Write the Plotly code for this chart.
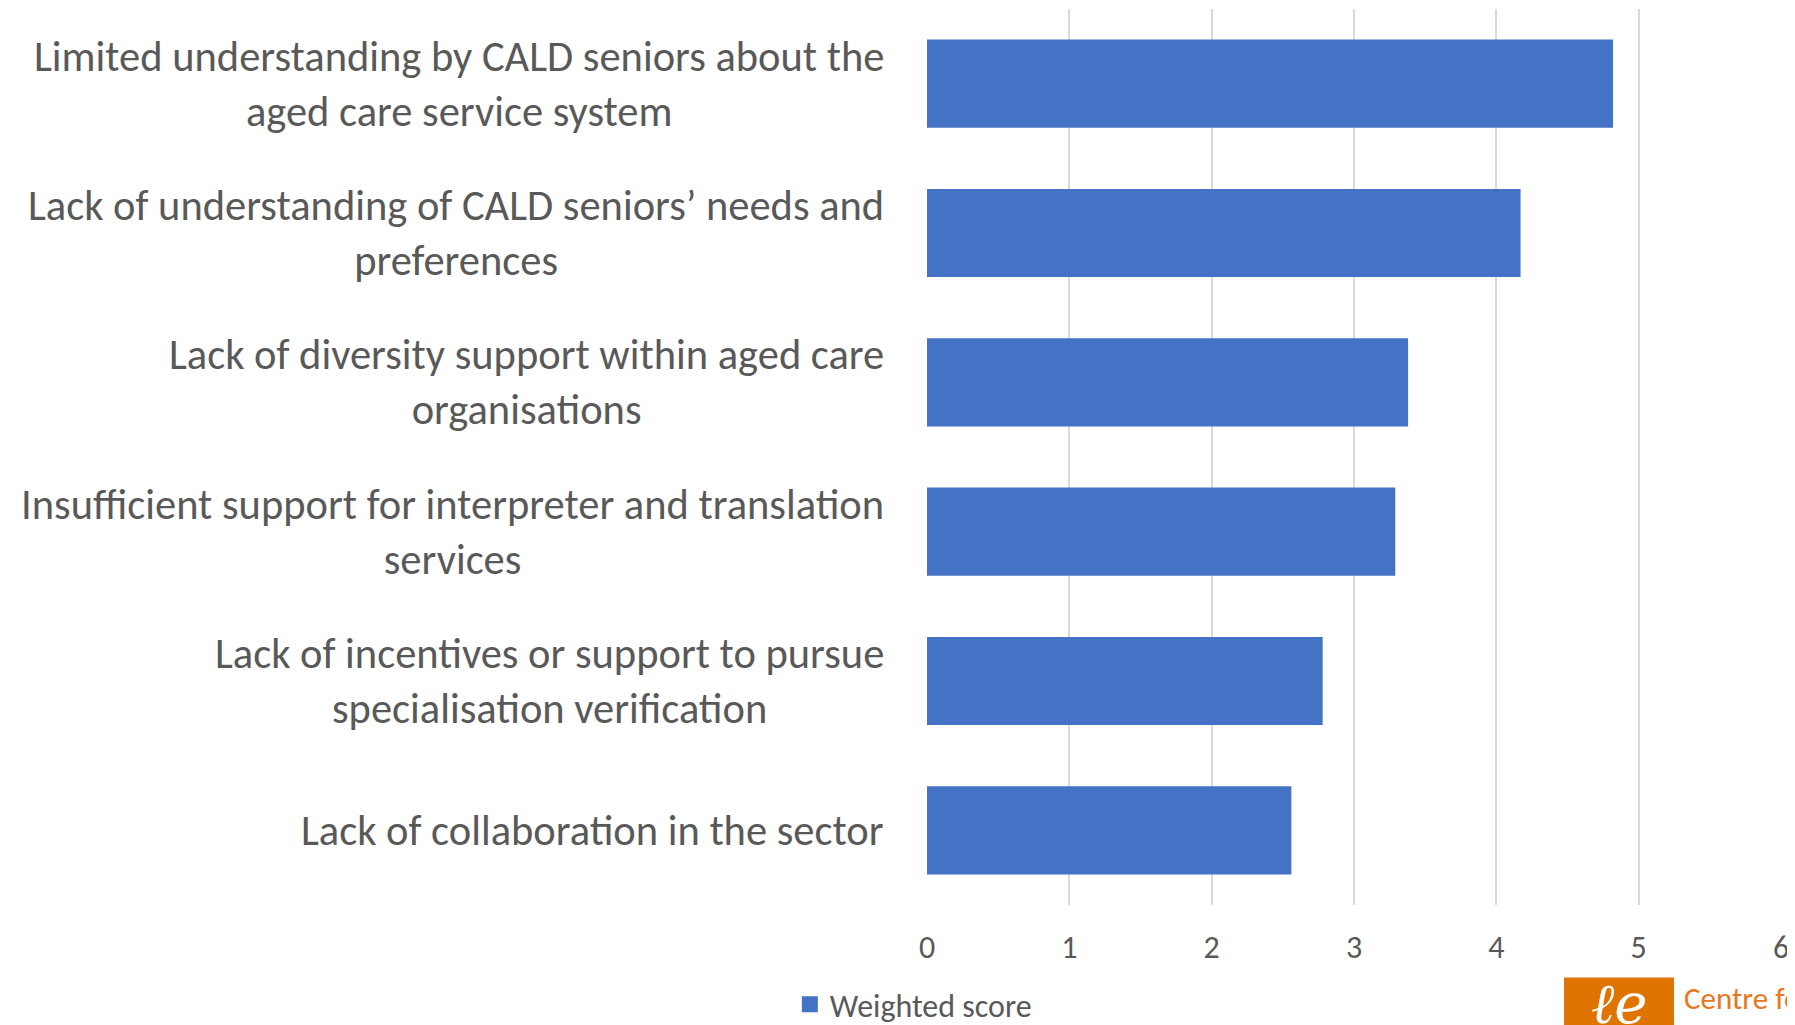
import plotly.graph_objs as go

categories = [
    "Limited understanding by CALD seniors about the<br>aged care service system",
    "Lack of understanding of CALD seniors\u2019 needs and<br>preferences",
    "Lack of diversity support within aged care<br>organisations",
    "Insufficient support for interpreter and translation<br>services",
    "Lack of incentives or support to pursue<br>specialisation verification",
    "Lack of collaboration in the sector",
]
weighted_score = [4.82, 4.17, 3.38, 3.29, 2.78, 2.56]
x_ticks = [0, 1, 2, 3, 4, 5, 6]

FONT = "Calibri, Carlito, Lato, sans-serif"
GREY = "#595959"
BLUE = "#4472C4"

positions = list(range(len(categories)))

fig = go.Figure()
fig.add_trace(go.Bar(
    x=weighted_score,
    y=positions,
    orientation="h",
    width=0.59,
    marker=dict(color=BLUE, line=dict(width=0)),
    name="Weighted score",
    showlegend=False,
    hovertemplate="%{x}<extra></extra>",
))
# legend entry with a bigger square swatch
fig.add_trace(go.Scatter(
    x=[None], y=[None], mode="markers",
    marker=dict(symbol="square", size=17, color=BLUE),
    name="Weighted score",
))

# category labels, centred lines, right-aligned block
for pos, label in zip(positions, categories):
    fig.add_annotation(
        x=-0.048, xref="paper", xanchor="right",
        y=pos, yref="y", yanchor="middle",
        text=label, showarrow=False, align="center",
        font=dict(family=FONT, size=42.5, color=GREY),
    )

fig.update_xaxes(
    range=[0, 6],
    tickvals=x_ticks,
    showgrid=True, gridcolor="#d9d9d9", gridwidth=1.5,
    zeroline=False, showline=False,
    tickfont=dict(family=FONT, size=32, color=GREY),
    ticklabelstandoff=20,
)
fig.update_yaxes(
    range=[5.5, -0.5],
    showticklabels=False, showgrid=False, zeroline=False,
)

# logo in the corner (page is offset by the 8px body margin)
fig.add_shape(type="rect", xref="paper", yref="paper",
              x0=(1556 - 919) / 854, x1=(1666 - 919) / 854,
              y0=-0.2, y1=(902 - 975) / 901,
              fillcolor="#E07400", line=dict(width=0), layer="above")
fig.add_annotation(x=(1611 - 919) / 854, xref="paper", xanchor="center",
                   y=(902 - 966) / 901, yref="paper", yanchor="top",
                   text="<i>\u2113e</i>", showarrow=False,
                   font=dict(family="DejaVu Serif", size=56, color="white"))
fig.add_annotation(x=(1674 - 919) / 854, xref="paper", xanchor="left",
                   y=(902 - 974) / 901, yref="paper", yanchor="top",
                   text="Centre for<br>Cultural", showarrow=False, align="left",
                   font=dict(family=FONT, size=31, color="#E87722"))

fig.update_layout(
    width=1795, height=1025,
    margin=dict(l=919, r=22, t=1, b=123),
    plot_bgcolor="white", paper_bgcolor="white",
    bargap=0.41,
    showlegend=True,
    legend=dict(orientation="h", x=-0.016, xanchor="center",
                y=-0.111, yanchor="middle",
                font=dict(family=FONT, size=32, color=GREY)),
)

fig.write_html("out.html")
